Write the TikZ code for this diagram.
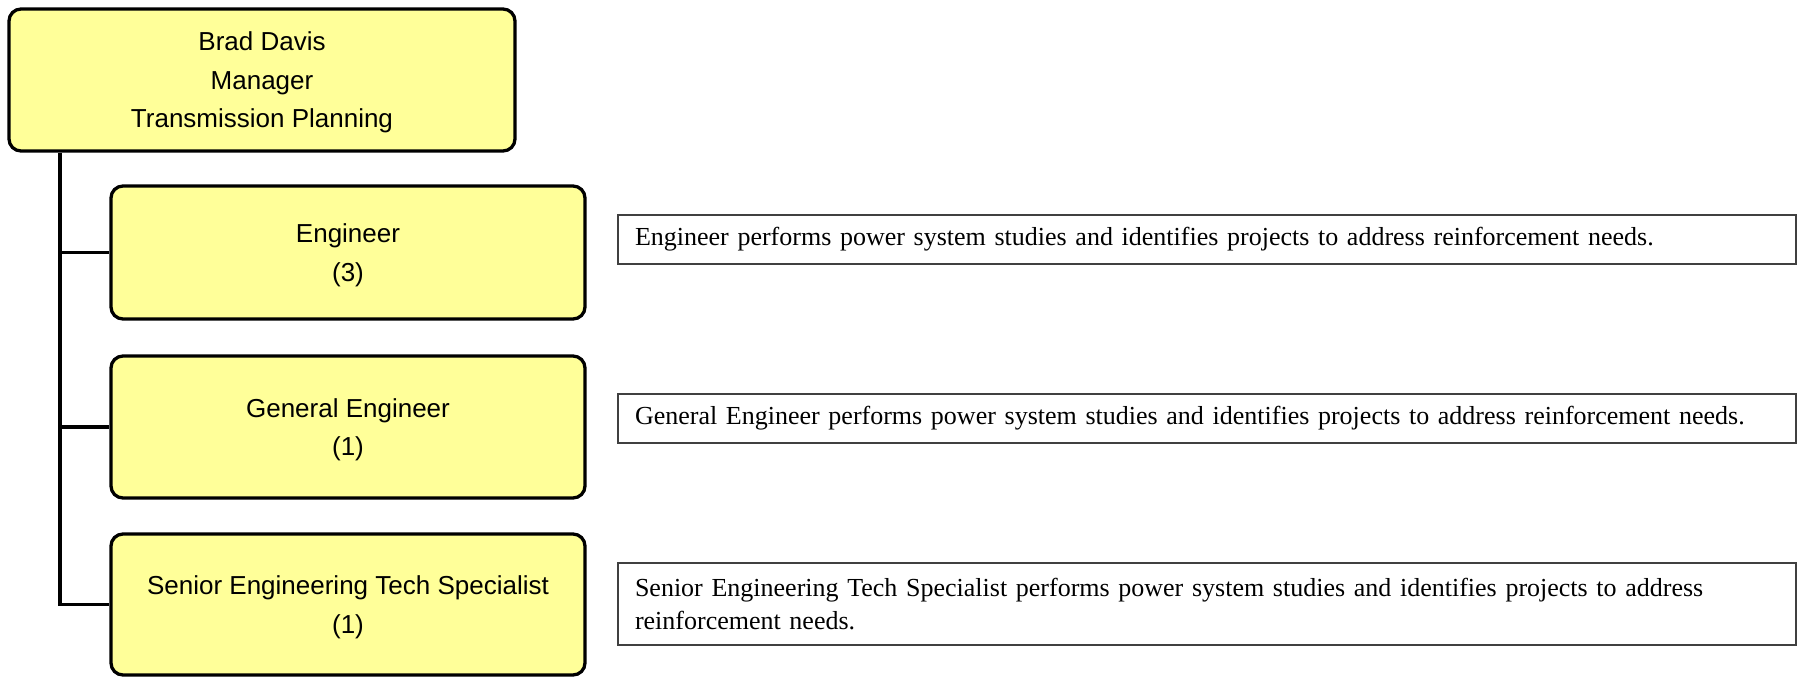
\documentclass[tikz,border=0pt]{standalone}
\usepackage{fontspec}
\setmainfont{Liberation Serif}
\newfontfamily\arialf{Liberation Sans}
\definecolor{boxyellow}{HTML}{FFFF99}
\definecolor{descline}{HTML}{404040}
\tikzset{
  rolebox/.style={draw=black, line width=1.65pt, fill=boxyellow, rounded corners=6pt,
    inner sep=0pt, align=center, font=\arialf\fontsize{13pt}{19.25pt}\selectfont},
  descbox/.style={draw=descline, line width=0.75pt, fill=white, inner xsep=8.5pt, inner ysep=0pt,
    align=left, text width=572pt, font=\fontsize{13pt}{16.5pt}\selectfont},
  conn/.style={draw=black, line width=1.65pt}
}
\newcommand{\toppad}{\rule{0pt}{12pt}}
\begin{document}
\begin{tikzpicture}[x=0.5pt,y=-0.5pt]
\useasboundingbox (0,0) rectangle (1800,676);
\node[rolebox, minimum width=253pt, minimum height=71pt] (mgr) at (262,80) {\toppad Brad Davis\\Manager\\Transmission Planning};
\node[rolebox, minimum width=237pt, minimum height=66.5pt] (eng) at (348,252.5) {\toppad Engineer\\(3)};
\node[rolebox, minimum width=237pt, minimum height=71pt] (gen) at (348,427) {\toppad General Engineer\\(1)};
\node[rolebox, minimum width=237pt, minimum height=70.5pt] (sen) at (348,604.5) {\toppad Senior Engineering Tech Specialist\\(1)};
\node[descbox, minimum height=24.5pt] (d1) at (1207,239.5) {Engineer performs power system studies and identifies projects to address reinforcement needs.};
\node[descbox, minimum height=24.5pt] (d2) at (1207,418.5) {General Engineer performs power system studies and identifies projects to address reinforcement needs.};
\node[descbox, minimum height=41pt] (d3) at (1207,604) {Senior Engineering Tech Specialist performs power system studies and identifies projects to address\\reinforcement needs.};
\coordinate (jt) at (60,604.5);
\draw[conn] (mgr.south -| jt) -- (jt) -- (sen.west);
\draw[conn] (eng.west -| jt) -- (eng.west);
\draw[conn] (gen.west -| jt) -- (gen.west);
\end{tikzpicture}
\end{document}
